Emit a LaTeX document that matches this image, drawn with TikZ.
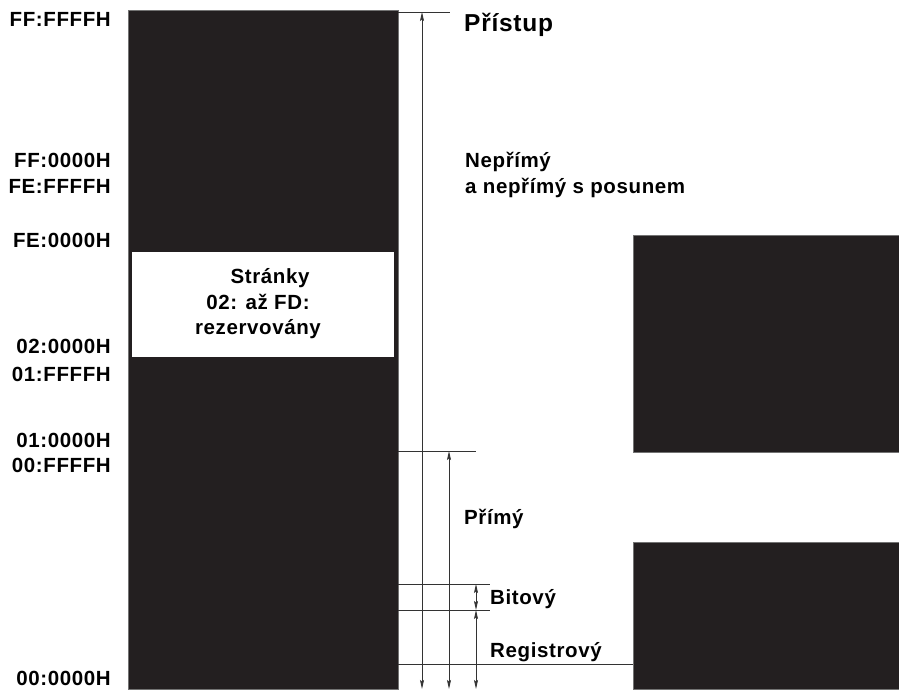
\documentclass[tikz,border=0pt]{standalone}
\usepackage{fontspec}
\setmainfont{Liberation Sans}
\newfontfamily\memface[LetterSpace=3.0]{Liberation Sans}
\usetikzlibrary{arrows.meta}
\definecolor{memblack}{RGB}{35,31,32}
\newcommand{\addrfont}{\memface\bfseries\fontsize{20.5}{24}\selectfont}
\newcommand{\headfont}{\memface\bfseries\fontsize{24.5}{28}\selectfont}

\begin{document}
\begin{tikzpicture}[x=1pt, y=-1pt, >={Stealth[length=9pt,width=4pt,inset=1.5pt]},
  blk/.style={fill=memblack, draw=black!55, line width=0.7pt},
  addr/.style={anchor=base east, inner sep=0pt, font=\addrfont},
  lab/.style={anchor=base west, inner sep=0pt, font=\addrfont},
  dim/.style={draw=black!80, line width=0.9pt}]
  \useasboundingbox (0,0) rectangle (899,689);

  \path[blk] (128,10) rectangle (398,689);
  \fill[white] (132,252) rectangle (394,357);
  \path[blk] (633,235) rectangle (899,452);
  \path[blk] (633,542) rectangle (899,689);

  \node[addr] (ffff) at (111,26) {FF:FFFFH};
  \node[addr] (ff00) at (111,167) {FF:0000H};
  \node[addr] (feff) at (111,193) {FE:FFFFH};
  \node[addr] (fe00) at (111,247) {FE:0000H};
  \node[addr] (0200) at (111,353) {02:0000H};
  \node[addr] (01ff) at (111,381) {01:FFFFH};
  \node[addr] (0100) at (111,447) {01:0000H};
  \node[addr] (00ff) at (111,472) {00:FFFFH};
  \node[addr] (0000) at (111,685) {00:0000H};

  \node[font=\addrfont, anchor=base] (str) at (270,283) {Stránky};
  \node[font=\addrfont, anchor=base] (rez1) at (258,309) {02: až FD:};
  \node[font=\addrfont, anchor=base] (rez2) at (258,334) {rezervovány};

  \coordinate (t0) at (398,12);  \coordinate (t1) at (450,12);
  \coordinate (p0) at (398,451); \coordinate (p1) at (476,451);
  \coordinate (b0) at (398,584); \coordinate (b1) at (490,584);
  \coordinate (r0) at (398,610); \coordinate (r1) at (490,610);
  \coordinate (g0) at (398,664); \coordinate (g1) at (633,664);
  \draw[dim] (t0) -- (t1);
  \draw[dim] (p0) -- (p1);
  \draw[dim] (b0) -- (b1);
  \draw[dim] (r0) -- (r1);
  \draw[dim] (g0) -- (g1);

  \coordinate (a1t) at (422,12);  \coordinate (a1b) at (422,689);
  \coordinate (a2t) at (449,451); \coordinate (a2b) at (449,689);
  \coordinate (a3t) at (476,584); \coordinate (a3m) at (476,610);
  \coordinate (a3b) at (476,689);
  \draw[dim,<->] (a1t) -- (a1b);
  \draw[dim,<->] (a2t) -- (a2b);
  \draw[dim,<->] (a3t) -- (a3m);
  \draw[dim,<->] (a3m) -- (a3b);

  \node[anchor=base west, inner sep=0pt, font=\headfont] (pristup) at (464,31) {Přístup};
  \node[lab] (neprimy) at (465,167) {Nepřímý};
  \node[lab] (posun) at (465,193) {a nepřímý s posunem};
  \node[lab] (primy) at (464,524) {Přímý};
  \node[lab] (bitovy) at (490,604) {Bitový};
  \node[lab] (registr) at (490,657) {Registrový};
\end{tikzpicture}
\end{document}
